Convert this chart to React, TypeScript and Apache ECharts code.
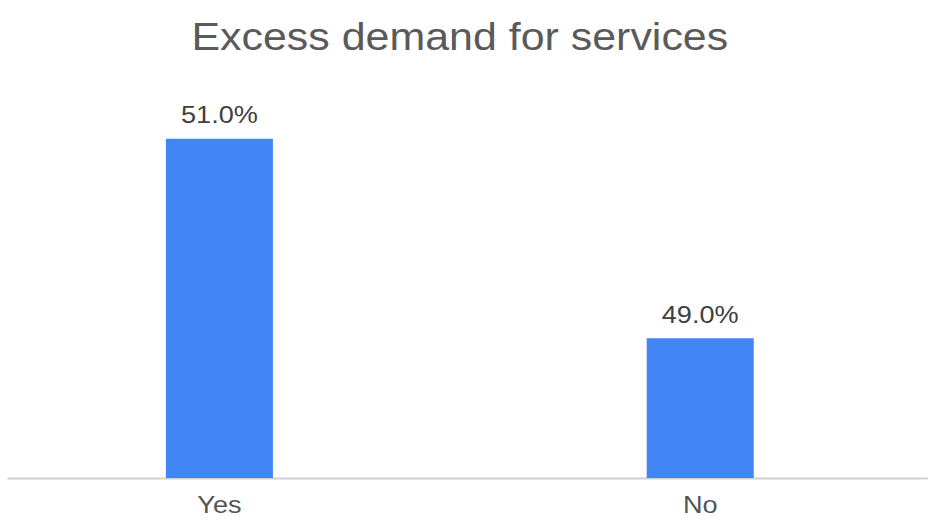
import React, { useEffect, useRef } from "react";
import * as echarts from "echarts";

const categories = ["Yes", "No"];
const values = [51.0, 49.0];
const titleText = "Excess demand for services";

// The reference looks horizontally stretched; render narrower and stretch.
const STRETCH = 1.13;
const INNER_W = 851.4;
const OFFSET_X = -20.6;

export default function App() {
  const ref = useRef<HTMLDivElement>(null);
  useEffect(() => {
    if (!ref.current) return;
    const chart = echarts.init(ref.current, null, { renderer: "svg" });
    chart.setOption({
      animation: false,
      backgroundColor: "#ffffff",
      title: {
        text: titleText,
        left: "center",
        top: 13,
        textStyle: {
          fontFamily: "Liberation Sans, Arial, sans-serif",
          fontSize: 38,
          fontWeight: "normal",
          color: "#5a5a5a",
        },
      },
      grid: { left: 0, right: 0, top: 89, bottom: 47 },
      xAxis: {
        type: "category",
        data: categories,
        axisLine: { show: false },
        axisTick: { show: false },
        axisLabel: {
          fontFamily: "Liberation Sans, Arial, sans-serif",
          fontSize: 24,
          color: "#555555",
          margin: 15,
        },
      },
      yAxis: {
        type: "value",
        min: 47.6,
        max: 51.5,
        show: false,
        splitLine: { show: false },
      },
      graphic: [
        {
          type: "line",
          shape: { x1: 25.3, y1: 478.5, x2: 839.5, y2: 478.5 },
          style: { stroke: "#cfcfcf", lineWidth: 2 },
        },
      ],
      series: [
        {
          type: "bar",
          data: values,
          barWidth: 94.7,
          itemStyle: { color: "#4285F4" },
          label: {
            show: true,
            position: "top",
            distance: 12,
            formatter: (p: any) => p.value.toFixed(1) + "%",
            fontFamily: "Liberation Sans, Arial, sans-serif",
            fontSize: 24,
            color: "#404040",
          },
        },
      ],
    });
    return () => chart.dispose();
  }, []);
  return (
    <div
      style={{
        position: "fixed",
        left: 0,
        top: 0,
        width: 932,
        height: 525,
        overflow: "hidden",
        background: "#ffffff",
      }}
    >
      <div
        ref={ref}
        style={{
          position: "absolute",
          left: OFFSET_X,
          top: 0,
          width: INNER_W,
          height: 525,
          transform: `scaleX(${STRETCH})`,
          transformOrigin: "0 0",
        }}
      />
    </div>
  );
}
